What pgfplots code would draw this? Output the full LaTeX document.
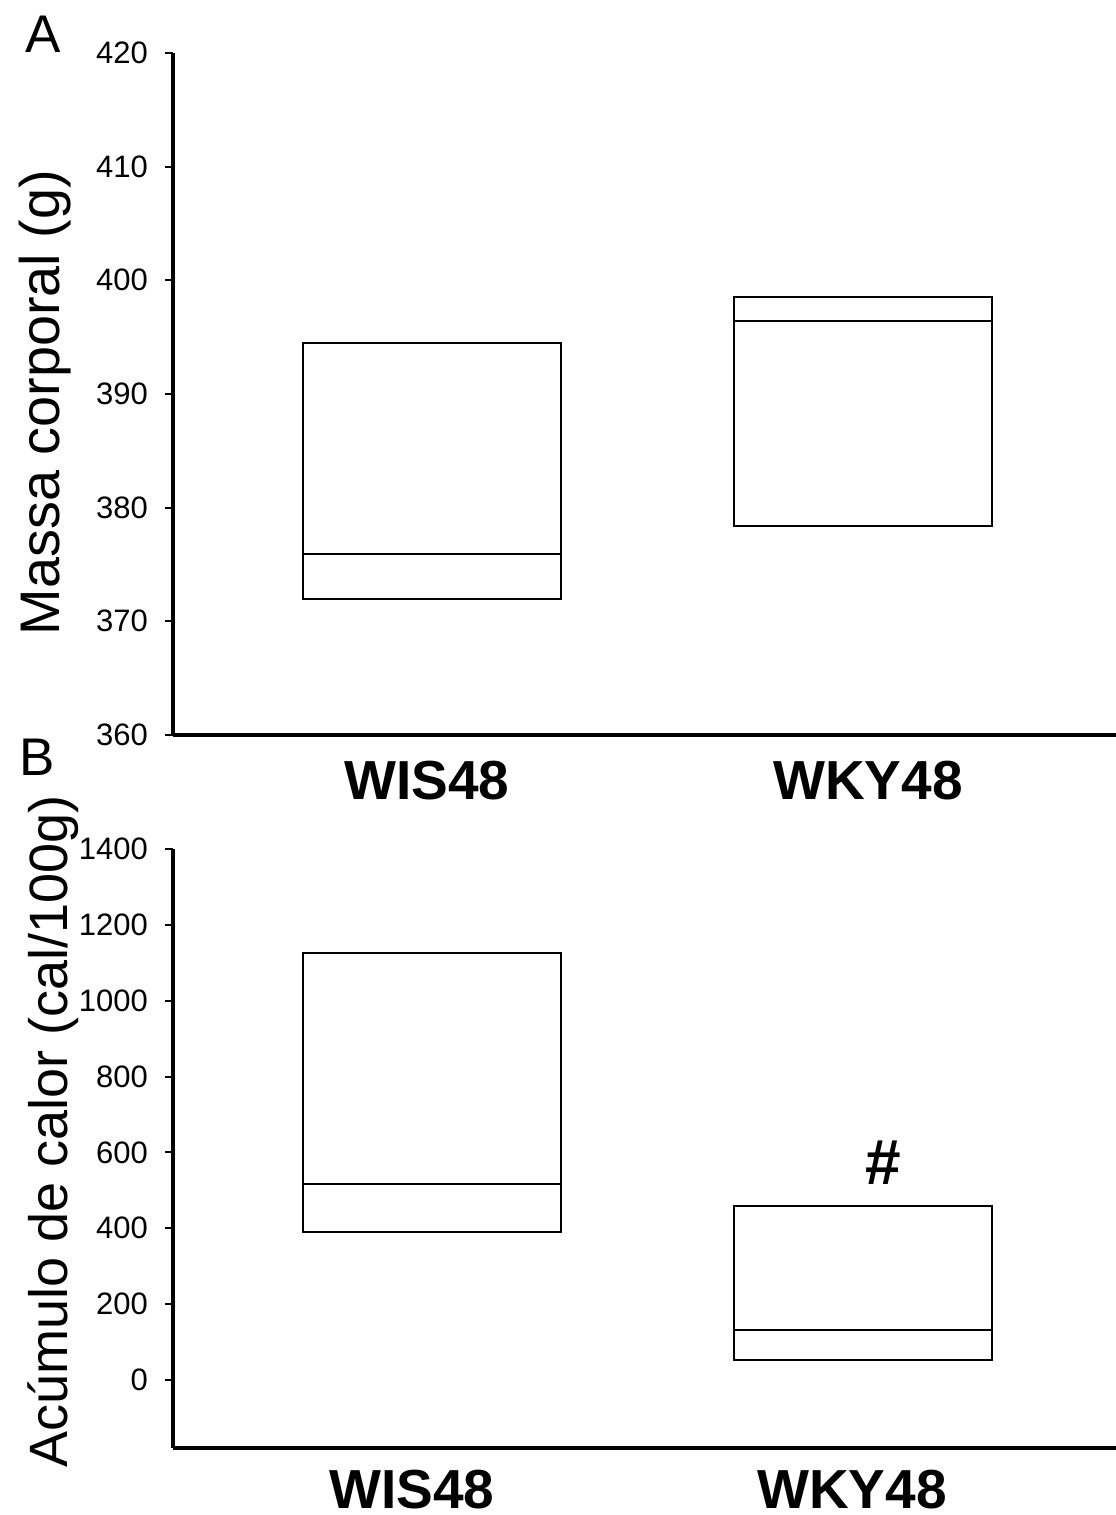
\documentclass[border=0pt]{standalone}
\usepackage{fontspec}
\setmainfont{Liberation Sans}
\usepackage{pgfplots}
\pgfplotsset{compat=1.18}
\usepgfplotslibrary{statistics}
\begin{document}
\begin{tikzpicture}
\path[use as bounding box] (0pt,0pt) rectangle (1116pt,1515pt);
\pgfplotsset{
  panel/.style={
    scale only axis,
    width=943pt,
    xmin=173, xmax=1116,
    axis x line=bottom, axis y line=left,
    axis line style={-, line width=4pt, black},
    tick align=outside,
    major tick length=8pt,
    ytick style={line width=2pt, black},
    xtick style={draw=none},
    /pgf/number format/assume math mode=true,
    /pgf/number format/1000 sep={},
    yticklabel style={font=\fontsize{31}{31}\selectfont, anchor=east, inner sep=0pt, xshift=-17pt},
    xticklabel style={font=\fontsize{55}{55}\selectfont\bfseries, anchor=base, inner sep=0pt},
    xticklabels={WIS48,WKY48},
    ylabel style={anchor=base, inner sep=0pt},
    boxplot/draw direction=y,
    clip=false,
  },
}
% Panel A
\begin{axis}[panel,
  at={(173pt,780pt)}, anchor=south west,
  height=682pt,
  ymin=360, ymax=420, ytick={360,370,...,420},
  xtick={427,868},
  xticklabel style={yshift=-57pt},
  ylabel={Massa corporal (g)},
  ylabel style={font=\fontsize{55.8}{56}\selectfont, at={(axis description cs:-0.120,0.4875)}},
]
\addplot[draw=black, line width=2pt, boxplot prepared={draw position=431.5, box extend=258,
  lower whisker=372.0, lower quartile=372.0, median=375.9, upper quartile=394.5, upper whisker=394.5}]
  coordinates {};
\addplot[draw=black, line width=2pt, boxplot prepared={draw position=862.5, box extend=258,
  lower whisker=378.4, lower quartile=378.4, median=396.4, upper quartile=398.5, upper whisker=398.5}]
  coordinates {};
\end{axis}
% Panel B
\begin{axis}[panel,
  at={(173pt,67pt)}, anchor=south west,
  height=599pt,
  ymin=-179.3, ymax=1400, ytick={0,200,...,1400},
  xtick={412,852},
  xticklabel style={yshift=-52pt},
  ylabel={Acúmulo de calor (cal/100g)},
  ylabel style={font=\fontsize{54}{54}\selectfont, at={(axis description cs:-0.112,0.528)}},
]
\addplot[draw=black, line width=2pt, boxplot prepared={draw position=431.5, box extend=258,
  lower whisker=390, lower quartile=390, median=517, upper quartile=1126, upper whisker=1126}]
  coordinates {};
\addplot[draw=black, line width=2pt, boxplot prepared={draw position=862.5, box extend=258,
  lower whisker=53, lower quartile=53, median=132, upper quartile=459, upper whisker=459}]
  coordinates {};
\node[font=\fontsize{64}{64}\selectfont\bfseries, inner sep=0pt] at (axis cs:883,572) {\#};
\end{axis}
\node[anchor=base west, inner sep=0pt, font=\fontsize{53}{53}\selectfont] at (25pt,1462pt) {A};
\node[anchor=base west, inner sep=0pt, font=\fontsize{53}{53}\selectfont] at (19pt,739pt) {B};
\end{tikzpicture}
\end{document}
